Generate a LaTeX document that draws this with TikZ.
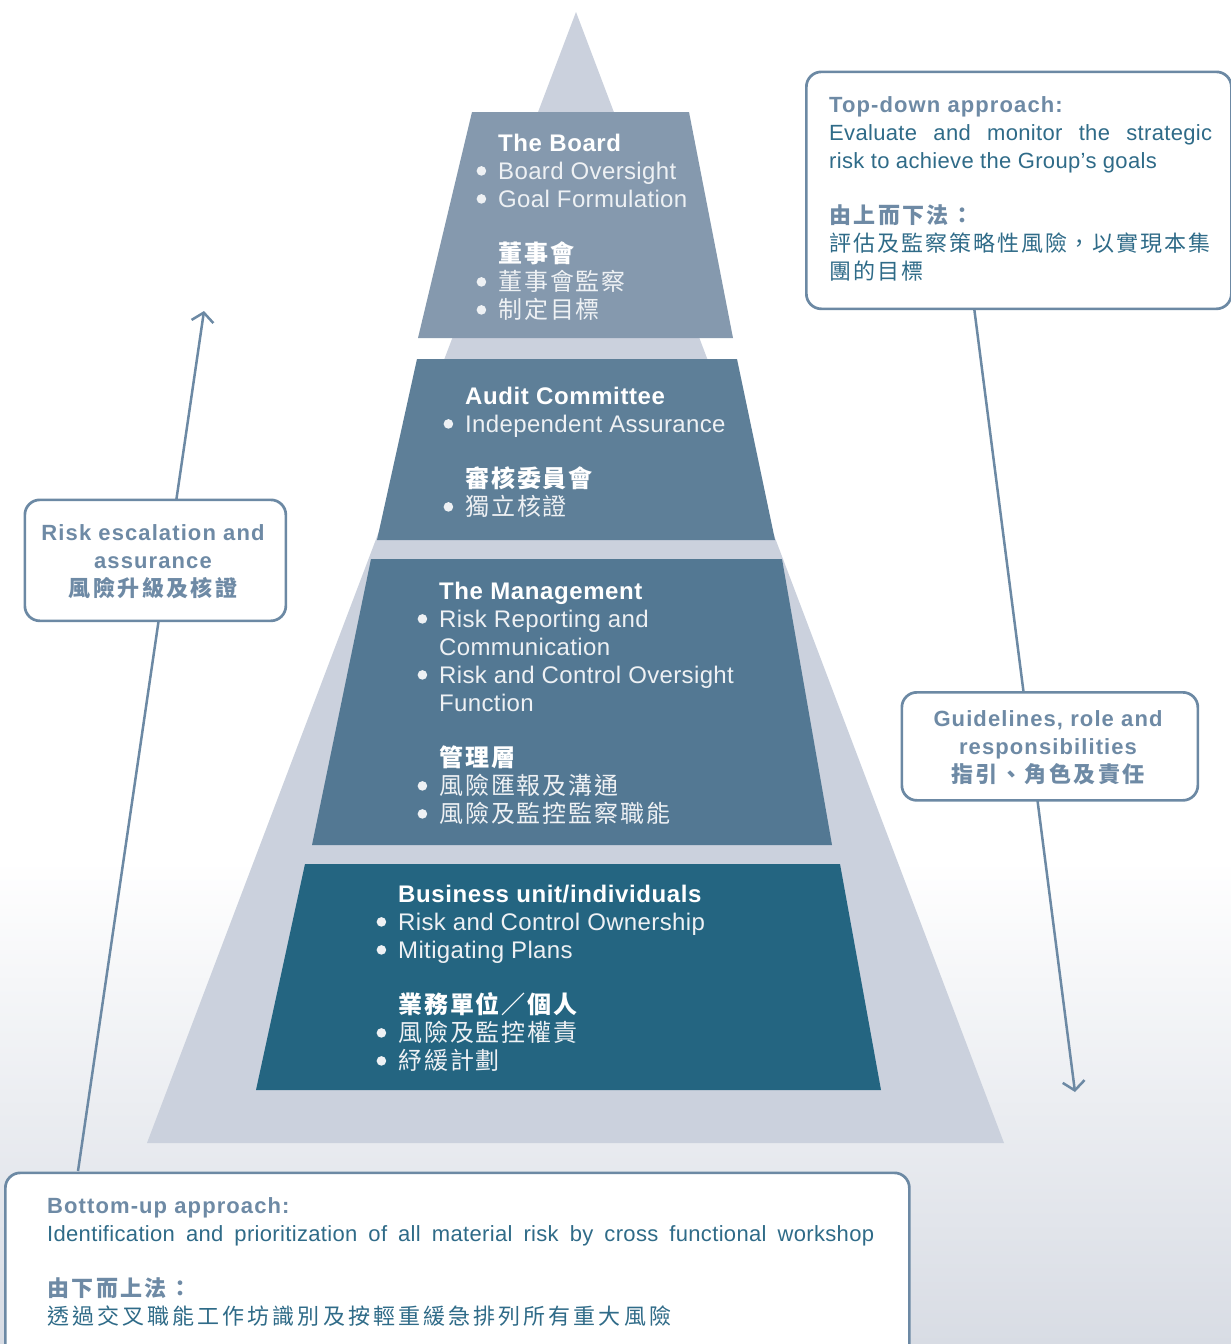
\documentclass[tikz,border=0pt]{standalone}
\usepackage{fontspec}
\usetikzlibrary{arrows.meta}
\setmainfont{Liberation Sans}
\newfontfamily\lat[LetterSpace=1.5]{Liberation Sans}
\newfontfamily\latb[LetterSpace=2.5]{Liberation Sans}
\newfontfamily\hdfont[LetterSpace=5]{Liberation Sans}
\newfontfamily\cjk[LetterSpace=8]{Noto Sans CJK TC}
\newfontfamily\cjkbox[LetterSpace=9]{Noto Sans CJK TC}
\newfontfamily\cjkwide[LetterSpace=14]{Noto Sans CJK TC}
\newfontfamily\cjkhd[LetterSpace=11]{Noto Sans CJK TC}
\definecolor{tri}{HTML}{CBD1DD}
\definecolor{lvA}{HTML}{8599AE}
\definecolor{lvB}{HTML}{5E7F98}
\definecolor{lvC}{HTML}{537893}
\definecolor{lvD}{HTML}{246581}
\definecolor{edge}{HTML}{6C89A4}
\definecolor{head}{HTML}{6E8AA5}
\definecolor{bodyc}{HTML}{2F6B88}
\definecolor{bgbot}{HTML}{D8DCE4}
\definecolor{pale}{HTML}{EEF1F4}
\newcommand\pbul{\llap{\tikz[baseline=-8.3pt]\fill[pale] (0pt,0pt) circle (4.8pt);\hspace{12pt}}}
\tikzset{
  lvl/.style={inner sep=0pt, anchor=north west, align=left, text=pale, font=\fontsize{24}{28}\selectfont\lat},
  boxtxt/.style={inner sep=0pt, align=left, text=bodyc, font=\fontsize{22}{28}\selectfont\lat},
  ctrtxt/.style={inner sep=0pt, align=center, text=head, font=\fontsize{22}{28}\selectfont\hdfont\bfseries},
  cbox/.style={draw=edge, line width=2.7pt, rounded corners=15pt, fill=white},
  arr/.style={draw=edge, line width=2.5pt, -{Straight Barb[length=9pt,width=22pt]}},
}
\begin{document}
\begin{tikzpicture}[x=1pt,y=-1pt]
\useasboundingbox (0,0) rectangle (1231,1344);
\clip (0,0) rectangle (1231,1344);
% background
\fill[white] (0,0) rectangle (1231,1344);
\shade[top color=white, bottom color=bgbot] (0,860) rectangle (1231,1344);
% pyramid
\fill[tri] (576,12) -- (1004,1143) -- (147,1143) -- cycle;
\fill[lvA] (472,112) -- (689,112) -- (733,338) -- (418,338) -- cycle;
\fill[lvB] (417,359) -- (737,359) -- (775,540) -- (377,540) -- cycle;
\fill[lvC] (371,559) -- (782,559) -- (832,845) -- (312,845) -- cycle;
\fill[lvD] (305,864) -- (840,864) -- (881,1090) -- (256,1090) -- cycle;
% level texts
\node[lvl] (boardtxt) at (498,131.4) {\strut{\latb\bfseries\color{white}The Board}\\
  \pbul Board Oversight\\
  \pbul Goal Formulation\\[27pt]
  {\cjk\bfseries\color{white}董事會}\\
  \pbul{\cjk 董事會監察}\\
  \pbul{\cjk 制定目標}};
\node[lvl] (audittxt) at (465,384.4) {\strut{\latb\bfseries\color{white}Audit Committee}\\
  \pbul Independent Assurance\\[27pt]
  {\cjk\bfseries\color{white}審核委員會}\\
  \pbul{\cjk 獨立核證}};
\node[lvl] (mgmttxt) at (439,579.4) {\strut{\latb\bfseries\color{white}The Management}\\
  \pbul Risk Reporting and\\
  Communication\\
  \pbul Risk and Control Oversight\\
  Function\\[27pt]
  {\cjk\bfseries\color{white}管理層}\\
  \pbul{\cjk 風險匯報及溝通}\\
  \pbul{\cjk 風險及監控監察職能}};
\node[lvl] (bustxt) at (398,882.4) {\strut{\latb\bfseries\color{white}Business unit/individuals}\\
  \pbul Risk and Control Ownership\\
  \pbul Mitigating Plans\\[27pt]
  {\cjk\bfseries\color{white}業務單位／個人}\\
  \pbul{\cjk 風險及監控權責}\\
  \pbul{\cjk 紓緩計劃}};
% coordinates for connectors
\coordinate (upS) at (78,1171);
\coordinate (upE) at (204,311);
\coordinate (dnS) at (974,307);
\coordinate (dnE) at (1075,1092);
\draw[arr] (upS) -- (upE);
\draw[arr] (dnS) -- (dnE);
% boxes
\node[cbox, inner sep=0pt, minimum width=425pt, minimum height=237pt, anchor=north west] (tdbox) at (805,70.5) {};
\node[cbox, inner sep=0pt, minimum width=261pt, minimum height=121pt, anchor=north west] (escbox) at (23.5,498.5) {};
\node[cbox, inner sep=0pt, minimum width=296pt, minimum height=108pt, anchor=north west] (guidebox) at (900.5,691) {};
\node[cbox, inner sep=0pt, minimum width=904pt, minimum height=220pt, anchor=north west] (bubox) at (4,1171.5) {};
% box texts
\node[boxtxt, anchor=north west] (tdtxt) at (829,92.4) {\strut{\hdfont\bfseries\color{head}Top-down approach:}\\
  \makebox[383pt][s]{Evaluate and monitor the strategic}\\
  risk to achieve the Group’s goals\\[27pt]
  {\cjkhd\bfseries\color{head}由上而下法：}\\
  {\cjkbox 評估及監察策略性風險，以實現本集}\\
  {\cjkbox 團的目標}};
\node[ctrtxt, anchor=north] (esctxt) at (153,520.4) {\strut Risk escalation and\\
  assurance\\
  {\cjkhd 風險升級及核證}};
\node[ctrtxt, anchor=north] (guidetxt) at (1048,706.4) {\strut Guidelines, role and\\
  responsibilities\\
  {\cjkhd 指引、角色及責任}};
\node[boxtxt, anchor=north west] (butxt) at (47,1193.4) {\strut{\hdfont\bfseries\color{head}Bottom-up approach:}\\
  \makebox[827pt][s]{Identification and prioritization of all material risk by cross functional workshop}\\[27pt]
  {\cjkhd\bfseries\color{head}由下而上法：}\\
  {\cjkwide 透過交叉職能工作坊識別及按輕重緩急排列所有重大風險}};
\end{tikzpicture}
\end{document}
